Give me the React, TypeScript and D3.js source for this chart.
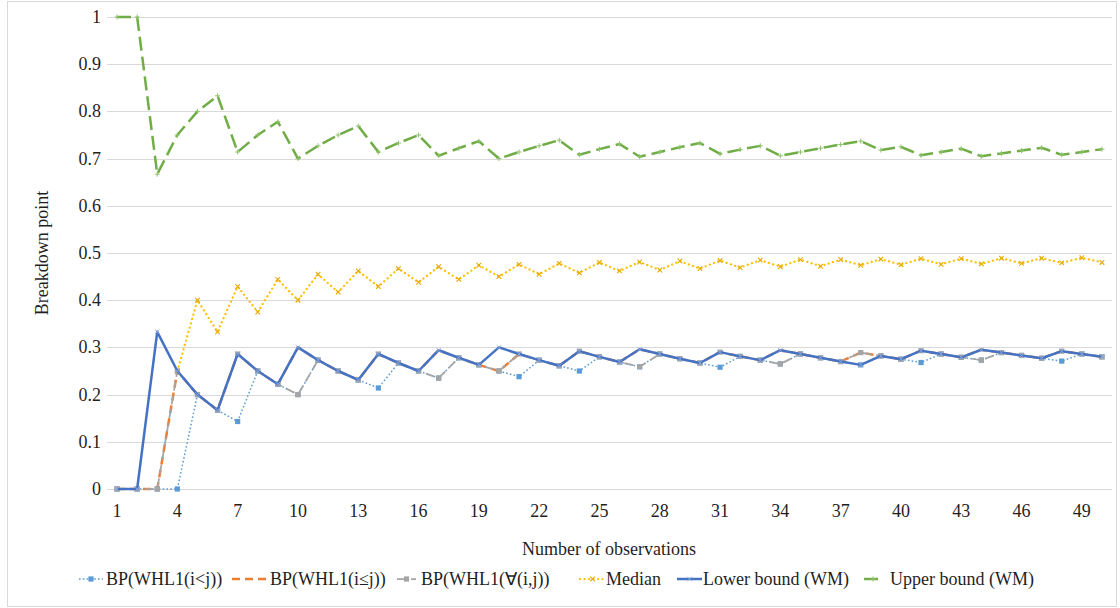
import React, { useEffect, useRef } from "react";
import * as d3 from "d3";

// number of observations (x categories)
const observations = [
  1, 2, 3, 4, 5, 6, 7, 8, 9, 10, 11, 12, 13, 14, 15, 16, 17, 18, 19, 20, 21, 22, 23, 24, 25,
  26, 27, 28, 29, 30, 31, 32, 33, 34, 35, 36, 37, 38, 39, 40, 41, 42, 43, 44, 45, 46, 47, 48, 49, 50,
];
const xTickLabels = [1, 4, 7, 10, 13, 16, 19, 22, 25, 28, 31, 34, 37, 40, 43, 46, 49];
const yTicks = [0, 0.1, 0.2, 0.3, 0.4, 0.5, 0.6, 0.7, 0.8, 0.9, 1];

const bpLess = [
  0, 0, 0, 0, 0.2, 0.167, 0.143, 0.25, 0.222, 0.2, 0.273, 0.25, 0.231, 0.214, 0.267, 0.25, 0.235,
  0.278, 0.263, 0.25, 0.238, 0.273, 0.261, 0.25, 0.28, 0.269, 0.259, 0.286, 0.276, 0.267, 0.258,
  0.281, 0.273, 0.265, 0.286, 0.278, 0.27, 0.263, 0.282, 0.275, 0.268, 0.286, 0.279, 0.273, 0.289,
  0.283, 0.277, 0.271, 0.286, 0.28,
];
const bpLessEq = [
  0, 0, 0, 0.25, 0.2, 0.167, 0.286, 0.25, 0.222, 0.3, 0.273, 0.25, 0.231, 0.286, 0.267, 0.25, 0.294,
  0.278, 0.263, 0.25, 0.286, 0.273, 0.261, 0.292, 0.28, 0.269, 0.296, 0.286, 0.276, 0.267, 0.29,
  0.281, 0.273, 0.294, 0.286, 0.278, 0.27, 0.289, 0.282, 0.275, 0.293, 0.286, 0.279, 0.295, 0.289,
  0.283, 0.277, 0.292, 0.286, 0.28,
];
const bpAll = [
  0, 0, 0, 0.25, 0.2, 0.167, 0.286, 0.25, 0.222, 0.2, 0.273, 0.25, 0.231, 0.286, 0.267, 0.25, 0.235,
  0.278, 0.263, 0.25, 0.286, 0.273, 0.261, 0.292, 0.28, 0.269, 0.259, 0.286, 0.276, 0.267, 0.29,
  0.281, 0.273, 0.265, 0.286, 0.278, 0.27, 0.289, 0.282, 0.275, 0.293, 0.286, 0.279, 0.273, 0.289,
  0.283, 0.277, 0.292, 0.286, 0.28,
];
// median is not visible before n = 4
const median = [
  null, null, null, 0.25, 0.4, 0.333, 0.429, 0.375, 0.444, 0.4, 0.455, 0.417, 0.462, 0.429, 0.467, 0.438,
  0.471, 0.444, 0.474, 0.45, 0.476, 0.455, 0.478, 0.458, 0.48, 0.462, 0.481, 0.464, 0.483, 0.467,
  0.484, 0.469, 0.485, 0.471, 0.486, 0.472, 0.486, 0.474, 0.487, 0.475, 0.488, 0.476, 0.488, 0.477,
  0.489, 0.478, 0.489, 0.479, 0.49, 0.48,
];
const lowerBound = [
  0, 0, 0.333, 0.25, 0.2, 0.167, 0.286, 0.25, 0.222, 0.3, 0.273, 0.25, 0.231, 0.286, 0.267, 0.25,
  0.294, 0.278, 0.263, 0.3, 0.286, 0.273, 0.261, 0.292, 0.28, 0.269, 0.296, 0.286, 0.276, 0.267,
  0.29, 0.281, 0.273, 0.294, 0.286, 0.278, 0.27, 0.263, 0.282, 0.275, 0.293, 0.286, 0.279, 0.295,
  0.289, 0.283, 0.277, 0.292, 0.286, 0.28,
];
const upperBound = [
  1, 1, 0.667, 0.75, 0.8, 0.833, 0.714, 0.75, 0.778, 0.7, 0.727, 0.75, 0.769, 0.714, 0.733, 0.75,
  0.706, 0.722, 0.737, 0.7, 0.714, 0.727, 0.739, 0.708, 0.72, 0.731, 0.704, 0.714, 0.724, 0.733,
  0.71, 0.719, 0.727, 0.706, 0.714, 0.722, 0.73, 0.737, 0.718, 0.725, 0.707, 0.714, 0.721, 0.705,
  0.711, 0.717, 0.723, 0.708, 0.714, 0.72,
];

type Marker = "square" | "x" | "plus" | "cross" | "none";
type Series = {
  name: string;
  values: (number | null)[];
  color: string;
  width: number;
  dash: string | null;
  cap: string;
  marker: Marker;
  // legend: line start/end and text x
  lx1: number;
  lx2: number;
  tx: number;
};

const series: Series[] = [
  { name: "BP(WHL1(i<j))", values: bpLess, color: "#5B9BD5", width: 1.5, dash: "1.6 2.2", cap: "butt", marker: "square", lx1: 79, lx2: 103, tx: 106 },
  { name: "BP(WHL1(i≤j))", values: bpLessEq, color: "#ED7D31", width: 2.5, dash: "8 5", cap: "butt", marker: "none", lx1: 232, lx2: 269, tx: 270 },
  { name: "BP(WHL1(∀(i,j))", values: bpAll, color: "#A5A5A5", width: 1.75, dash: "9 5", cap: "butt", marker: "square", lx1: 397, lx2: 416, tx: 421 },
  { name: "Median", values: median, color: "#FFC000", width: 2.25, dash: "0.1 4.4", cap: "round", marker: "x", lx1: 580, lx2: 605, tx: 606 },
  { name: "Lower bound (WM)", values: lowerBound, color: "#4472C4", width: 2.5, dash: null, cap: "butt", marker: "cross", lx1: 677, lx2: 702, tx: 703 },
  { name: "Upper bound (WM)", values: upperBound, color: "#70AD47", width: 2.5, dash: "14 6", cap: "butt", marker: "plus", lx1: 864, lx2: 882, tx: 890 },
];

const W = 1120;
const H = 608;
const FONT = "Liberation Serif, Times New Roman, serif";
const FS = "18px";
const TEXT = "#1f1f1f";

const drawMarker = (
  g: d3.Selection<SVGGElement, unknown, null, undefined>,
  kind: Marker,
  color: string,
  x: number,
  y: number
) => {
  if (kind === "square") {
    g.append("rect").attr("x", x - 2.6).attr("y", y - 2.6).attr("width", 5.2).attr("height", 5.2).attr("fill", color);
  } else if (kind === "x") {
    g.append("path")
      .attr("d", `M${x - 2.3},${y - 2.3}L${x + 2.3},${y + 2.3}M${x - 2.3},${y + 2.3}L${x + 2.3},${y - 2.3}`)
      .attr("stroke", "#E6A800")
      .attr("stroke-width", 1.1);
  } else if (kind === "cross") {
    g.append("path")
      .attr("d", `M${x - 2.3},${y - 2.3}L${x + 2.3},${y + 2.3}M${x - 2.3},${y + 2.3}L${x + 2.3},${y - 2.3}`)
      .attr("stroke", "#8EA9DB")
      .attr("stroke-width", 0.9);
  } else if (kind === "plus") {
    g.append("path")
      .attr("d", `M${x - 2.5},${y}L${x + 2.5},${y}M${x},${y - 2.5}L${x},${y + 2.5}`)
      .attr("stroke", "#8DC26A")
      .attr("stroke-width", 1);
  }
};

const App = () => {
  const ref = useRef<SVGSVGElement>(null);

  useEffect(() => {
    if (!ref.current) return;
    const svg = d3.select(ref.current);
    svg.selectAll("*").remove();

    const x = d3.scalePoint<number>().domain(observations).range([107, 1112]).padding(0.5);
    const y = d3.scaleLinear().domain([0, 1]).range([489, 17]);

    // outer chart border
    svg
      .append("rect")
      .attr("x", 7.5)
      .attr("y", 1.5)
      .attr("width", 1109)
      .attr("height", 605)
      .attr("fill", "#fff")
      .attr("stroke", "#d9d9d9");

    // gridlines
    svg
      .append("g")
      .selectAll("line")
      .data(yTicks)
      .join("line")
      .attr("x1", 107)
      .attr("x2", 1112)
      .attr("y1", (d) => Math.round(y(d)) + 0.5)
      .attr("y2", (d) => Math.round(y(d)) + 0.5)
      .attr("stroke", "#d9d9d9")
      .attr("stroke-width", 1);

    const txt = svg.append("g").style("font-family", FONT).style("font-size", FS).attr("fill", TEXT);

    // y tick labels
    txt
      .append("g")
      .selectAll("text")
      .data(yTicks)
      .join("text")
      .attr("x", 101)
      .attr("y", (d) => y(d))
      .attr("dy", "0.33em")
      .attr("text-anchor", "end")
      .text((d) => String(d));

    // x tick labels
    txt
      .append("g")
      .selectAll("text")
      .data(xTickLabels)
      .join("text")
      .attr("x", (d) => x(d)!)
      .attr("y", 517)
      .attr("text-anchor", "middle")
      .text((d) => String(d));

    // axis titles
    txt
      .append("text")
      .attr("x", 609)
      .attr("y", 555)
      .attr("text-anchor", "middle")
      .text("Number of observations");
    txt
      .append("text")
      .attr("transform", "translate(48,253) rotate(-90)")
      .attr("text-anchor", "middle")
      .text("Breakdown point");

    const line = d3
      .line<number | null>()
      .defined((d) => d !== null)
      .x((_, i) => x(observations[i])!)
      .y((d) => y(d as number));

    series.forEach((s) => {
      const g = svg.append("g");
      g.append("path")
        .attr("d", line(s.values))
        .attr("fill", "none")
        .attr("stroke", s.color)
        .attr("stroke-width", s.width)
        .attr("stroke-linejoin", "round")
        .attr("stroke-linecap", s.cap)
        .attr("stroke-dasharray", s.dash);
      s.values.forEach((v, i) => {
        if (v !== null) drawMarker(g, s.marker, s.color, x(observations[i])!, y(v));
      });
    });

    // legend
    const legendY = 579;
    series.forEach((s) => {
      const g = svg.append("g");
      g.append("line")
        .attr("x1", s.lx1)
        .attr("x2", s.lx2)
        .attr("y1", legendY)
        .attr("y2", legendY)
        .attr("stroke", s.color)
        .attr("stroke-width", s.width)
        .attr("stroke-linecap", s.cap)
        .attr("stroke-dasharray", s.dash);
      drawMarker(g, s.marker, s.color, (s.lx1 + s.lx2) / 2, legendY);
      g.append("text")
        .attr("x", s.tx)
        .attr("y", legendY)
        .attr("dy", "0.35em")
        .style("font-family", FONT)
        .style("font-size", FS)
        .attr("fill", TEXT)
        .text(s.name);
    });
  }, []);

  return (
    <div style={{ position: "absolute", left: 0, top: 0 }}>
      <svg ref={ref} width={W} height={H} style={{ display: "block" }} />
    </div>
  );
};

export default App;
